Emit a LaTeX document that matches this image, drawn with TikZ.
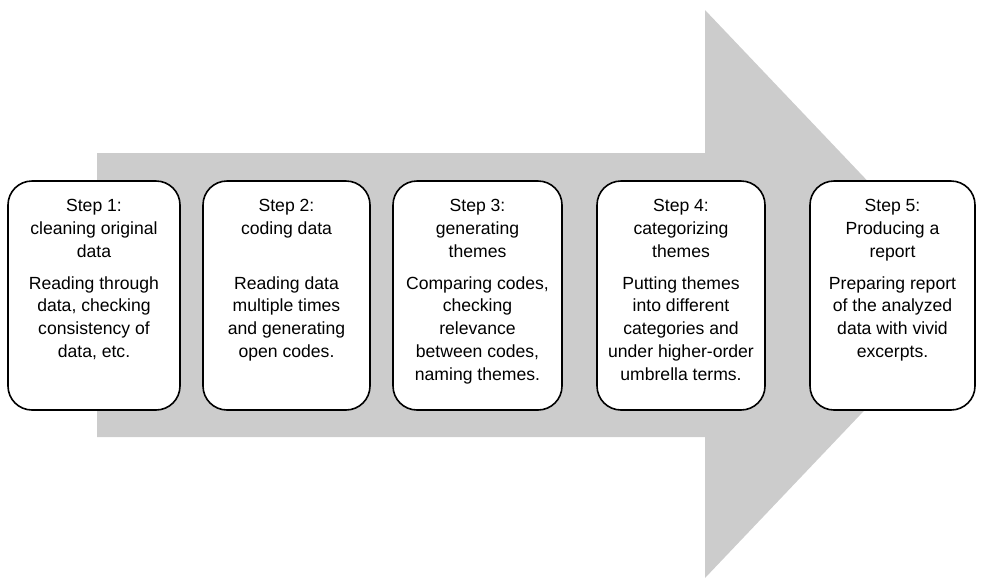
\documentclass[tikz,border=0pt]{standalone}
\usepackage{fontspec}
\setmainfont{Liberation Sans}
\definecolor{arrowgray}{RGB}{204,204,204}
\newcommand{\steptext}[2]{\parbox[c][192pt][t]{164pt}{\centering #1\par\vspace{9pt}#2}}
\begin{document}
\begin{tikzpicture}[x=1pt,y=-1pt,
	stepbox/.style={draw, line width=1.6pt, fill=white, rounded corners=24pt,
		minimum width=168pt, minimum height=229pt, inner sep=0pt,
		font=\fontsize{17.6}{22.8}\selectfont}]
	\useasboundingbox (0,0) rectangle (987,579);
	% big background arrow
	\fill[arrowgray] (97,153) -- (705,153) -- (705,10) -- (975,294) -- (705,578) -- (705,437) -- (97,437) -- cycle;
	% the five steps
	\node[stepbox, minimum width=172pt] (s1) at (94,295.5) {\steptext{Step 1:\\cleaning original\\data}{Reading through\\data, checking\\consistency of\\data, etc.}};
	\node[stepbox, minimum width=167pt] (s2) at (286.5,295.5) {\steptext{Step 2:\\coding data\\\mbox{}}{Reading data\\multiple times\\and generating\\open codes.}};
	\node[stepbox, minimum width=169pt] (s3) at (477.5,295.5) {\steptext{Step 3:\\generating\\themes}{Comparing codes,\\checking\\relevance\\between codes,\\naming themes.}};
	\node[stepbox] (s4) at (681,295.5) {\steptext{Step 4:\\categorizing\\themes}{Putting themes\\into different\\categories and\\under higher-order\\umbrella terms.}};
	\node[stepbox, minimum width=165pt] (s5) at (892.5,295.5) {\steptext{Step 5:\\Producing a\\report}{Preparing report\\of the analyzed\\data with vivid\\excerpts.}};
\end{tikzpicture}
\end{document}
